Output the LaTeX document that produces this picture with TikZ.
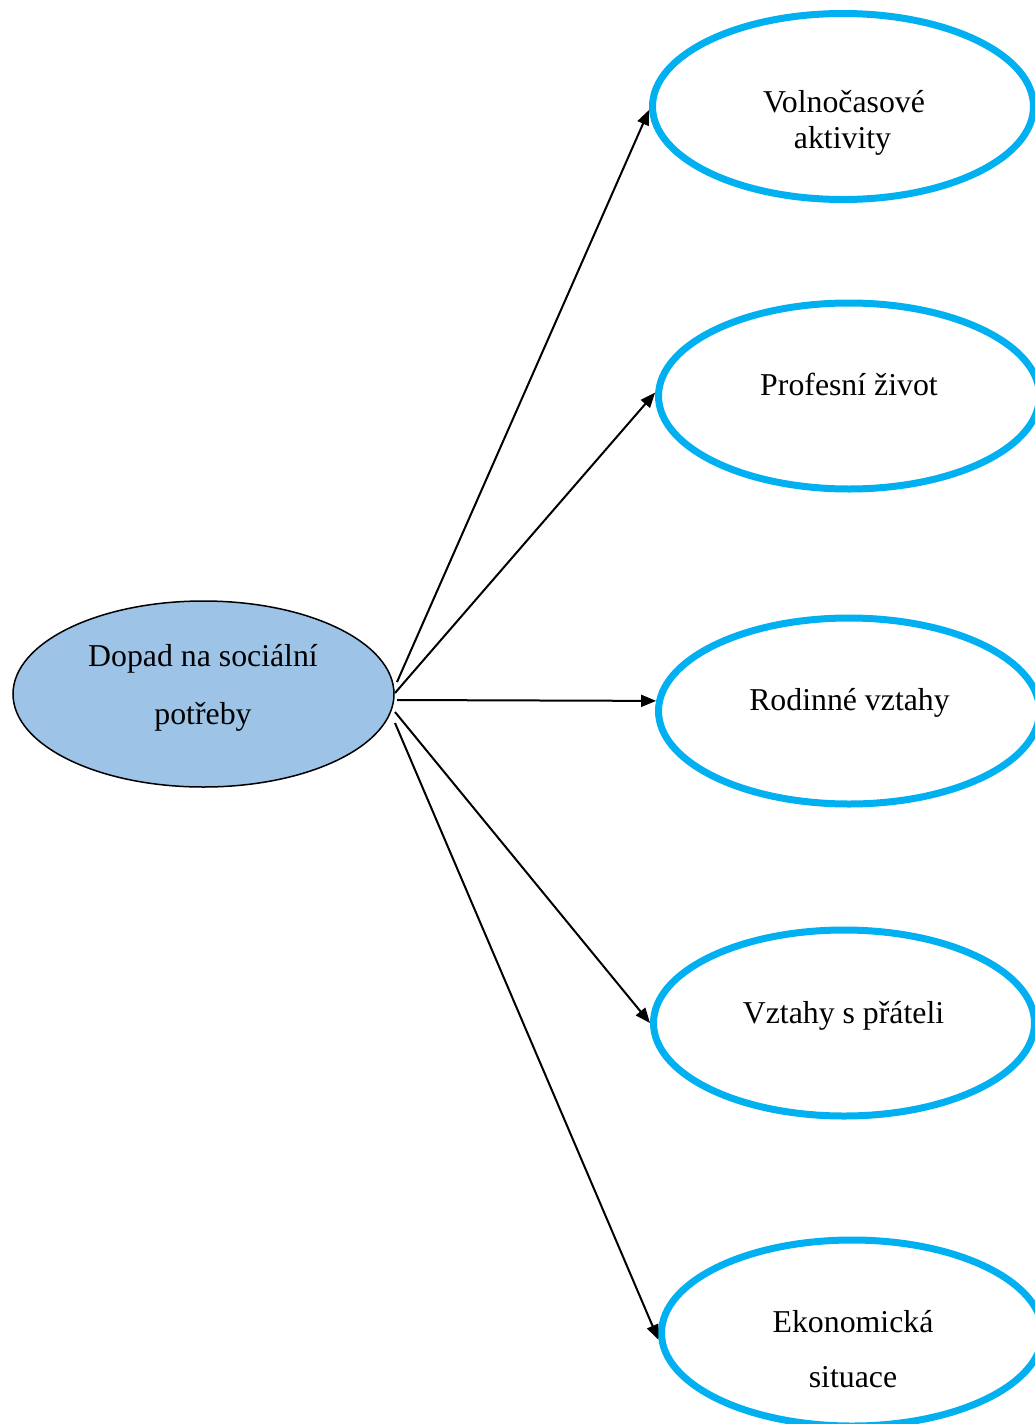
\documentclass[tikz,border=0pt]{standalone}
\usepackage{fontspec}
\setmainfont{Liberation Serif}
\usetikzlibrary{arrows.meta,shapes.geometric}
\definecolor{ellblue}{HTML}{00B0F0}
\definecolor{centfill}{HTML}{9DC3E6}
\begin{document}
\begin{tikzpicture}[x=1pt,y=-1pt,
  centell/.style={ellipse,draw=black,line width=1.5pt,fill=centfill,minimum width=381pt,minimum height=186pt,inner sep=0pt},
  blueell/.style={ellipse,draw=ellblue,line width=7pt,fill=white,minimum width=381pt,minimum height=186pt,inner sep=0pt},
  lbl/.style={anchor=base,inner sep=0pt,font=\fontsize{31.8}{36}\selectfont},
  conn/.style={line width=2pt,-{Triangle[length=15pt,width=12pt]}}]
\useasboundingbox (0,0) rectangle (1035,1424);
\clip (0,0) rectangle (1035,1424);
\fill[white] (0,0) rectangle (1035,1424);
% ellipses
\node[centell] (c) at (203.5,694) {};
\node[blueell] (v1) at (843,106.5) {};
\node[blueell] (v2) at (849,396) {};
\node[blueell] (v3) at (849,711) {};
\node[blueell] (v4) at (844,1023) {};
\node[blueell] (v5) at (852,1333) {};
% labels
\node[lbl] (c1) at (203,666) {Dopad na sociální};
\node[lbl] (c2) at (203,724) {potřeby};
\node[lbl] (l1a) at (844,112) {Volnočasové};
\node[lbl] (l1b) at (842.5,148) {aktivity};
\node[lbl] (l2) at (849,395) {Profesní život};
\node[lbl] (l3) at (849.5,710) {Rodinné vztahy};
\node[lbl] (l4) at (843.5,1023) {Vztahy s přáteli};
\node[lbl] (l5a) at (853,1332) {Ekonomická};
\node[lbl] (l5b) at (853,1387) {situace};
% start points
\coordinate (s1) at (397,682);
\coordinate (s2) at (395,693);
\coordinate (s3) at (397,700);
\coordinate (s4) at (395,712);
\coordinate (s5) at (395,723);
% connectors
\draw[conn] (s1) -- (v1.181);
\draw[conn] (s2) -- (v2.179);
\draw[conn] (s3) -- (v3.177.6);
\draw[conn] (s4) -- (v4.180.6);
\draw[conn] (s5) -- (v5.182.7);
\end{tikzpicture}
\end{document}
